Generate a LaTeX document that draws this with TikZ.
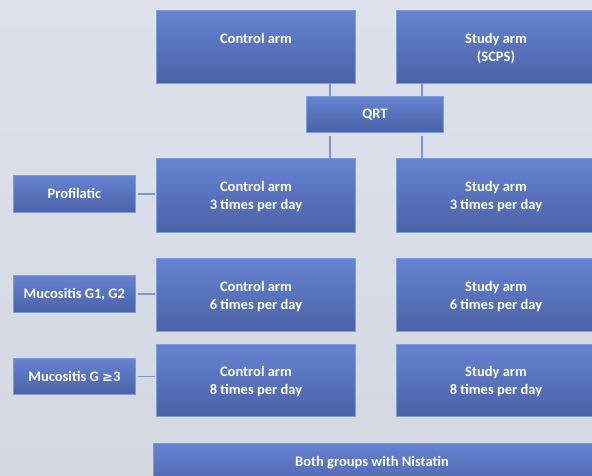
\documentclass[tikz,border=0pt]{standalone}
\usepackage{fontspec}
\setmainfont{Carlito}
\newfontfamily\dejavu{DejaVu Sans}
\definecolor{bgtop}{HTML}{DDE1EB}
\definecolor{bgbot}{HTML}{D4D8E1}
\definecolor{boxtop}{HTML}{6683D2}
\definecolor{boxbot}{HTML}{4A62A6}
\definecolor{boxline}{HTML}{7F99D9}
\definecolor{conn}{HTML}{7C95D4}
\tikzset{
  boxshape/.style={draw=boxline, line width=0.8pt, top color=boxtop, bottom color=boxbot, inner sep=0pt, anchor=north west},
  boxtext/.style={text=white, font=\bfseries\fontsize{14.5}{18}\selectfont, align=center, anchor=north, inner sep=0pt},
  conline/.style={draw=conn, line width=1.4pt}
}
\begin{document}
\begin{tikzpicture}[x=1pt,y=-1pt]
\useasboundingbox (0,0) rectangle (592,476);
\shade[top color=bgtop, bottom color=bgbot] (0,0) rectangle (592,476);
\begin{scope}
\clip (0,0) rectangle (592,476);
% top row
\node[boxshape, minimum width=199pt, minimum height=73pt] (ca) at (156,10) {};
\node[boxshape, minimum width=210pt, minimum height=73pt] (sa) at (396,10) {};
\node[boxtext] (cat) at (256,33) {Control arm};
\node[boxtext] (sat) at (496,33) {Study arm\\(SCPS)};
% QRT
\node[boxshape, minimum width=137pt, minimum height=36pt] (qrt) at (306,96) {};
\node[boxtext, anchor=center] (qrtt) at (qrt.center) {QRT};
% row 1
\node[boxshape, minimum width=199pt, minimum height=74pt] (c3) at (156,158) {};
\node[boxshape, minimum width=210pt, minimum height=74pt] (s3) at (396,158) {};
\node[boxtext] (c3t) at (256,181) {Control arm\\3 times per day};
\node[boxtext] (s3t) at (496,181) {Study arm\\3 times per day};
\node[boxshape, minimum width=122pt, minimum height=37pt] (pro) at (13,175) {};
\node[boxtext, anchor=center] (prot) at (pro.center) {Profilatic};
% row 2
\node[boxshape, minimum width=199pt, minimum height=73pt] (c6) at (156,258) {};
\node[boxshape, minimum width=210pt, minimum height=73pt] (s6) at (396,258) {};
\node[boxtext] (c6t) at (256,281) {Control arm\\6 times per day};
\node[boxtext] (s6t) at (496,281) {Study arm\\6 times per day};
\node[boxshape, minimum width=122pt, minimum height=37pt] (m12) at (13,275) {};
\node[boxtext, anchor=center] (m12t) at (m12.center) {Mucositis G1, G2};
% row 3
\node[boxshape, minimum width=199pt, minimum height=72pt] (c8) at (156,344) {};
\node[boxshape, minimum width=210pt, minimum height=72pt] (s8) at (396,344) {};
\node[boxtext] (c8t) at (256,366) {Control arm\\8 times per day};
\node[boxtext] (s8t) at (496,366) {Study arm\\8 times per day};
\node[boxshape, minimum width=122pt, minimum height=36pt] (m3) at (13,358) {};
\node[boxtext, anchor=center] (m3t) at (m3.center) {Mucositis G {\dejavu\fontsize{13}{18}\selectfont ≥}3};
% bottom
\node[boxshape, minimum width=460pt, minimum height=50pt] (both) at (153,443) {};
\node[boxtext] (botht) at (372,456) {Both groups with Nistatin};
% connectors
\coordinate (q1) at (330,136);
\coordinate (q2) at (422,136);
\draw[conline] (ca.south -| q1) -- (qrt.north -| q1);
\draw[conline] (sa.south -| q2) -- (qrt.north -| q2);
\draw[conline] (q1) -- (c3.north -| q1);
\draw[conline] (q2) -- (s3.north -| q2);
\draw[conline] ([xshift=2pt]pro.east) -- ([xshift=-1pt]pro.east -| c3.west);
\draw[conline] ([xshift=2pt]m12.east) -- ([xshift=-1pt]m12.east -| c6.west);
\draw[conline] ([xshift=2pt]m3.east) -- ([xshift=-1pt]m3.east -| c8.west);
\end{scope}
\end{tikzpicture}
\end{document}
